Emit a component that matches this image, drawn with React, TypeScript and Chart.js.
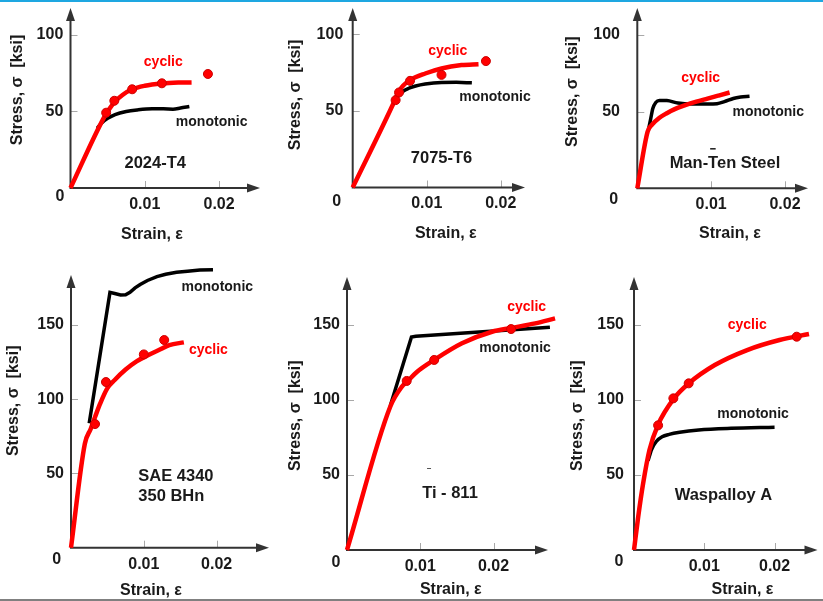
import React, { useEffect, useRef } from "react";
import { Chart, registerables } from "chart.js";

Chart.register(...registerables);

const W = 823;
const H = 601;
const FONT = "'Liberation Sans', Arial, Helvetica, sans-serif";
const RED = "#ff0000";
const INK = "#1a1a1a";
const AXIS = "#333333";

// ---------- text & ticks ----------
const strainTicks = [0.01, 0.02];
const strainTickLabels = ["0.01", "0.02"];
const stressTicksTop = [50, 100];
const stressTicksBottom = [50, 100, 150];
const materials = ["2024-T4", "7075-T6", "Man-Ten Steel", "SAE 4340\n350 BHn", "Ti - 811", "Waspalloy A"];
const yAxisTitle = "Stress, σ  [ksi]";
const xAxisTitle = "Strain, ε";
const zeroLabel = "0";
const cyclicText = "cyclic";
const monotonicText = "monotonic";

// ---------- 2024-T4 ----------
const al2024CyclicStrain = [0, 0.0045, 0.0052, 0.006, 0.007, 0.0083, 0.01, 0.0123, 0.0145, 0.0163];
const al2024CyclicStress = [0, 46, 51.5, 56.5, 60.8, 64.5, 66.8, 68.3, 68.9, 69];
const al2024MonoStrain = [0.0036, 0.0042, 0.005, 0.006, 0.0075, 0.009, 0.011, 0.0125, 0.0138, 0.0148, 0.016];
const al2024MonoStress = [39, 42.5, 45.5, 48, 50, 51, 51.7, 51.7, 51.5, 52.2, 53.2];
const al2024DotStrain = [0.0048, 0.0059, 0.0083, 0.0123, 0.0185];
const al2024DotStress = [49.2, 57, 64.5, 68.4, 74.5];

// ---------- 7075-T6 ----------
const al7075CyclicStrain = [0, 0.0057, 0.0062, 0.0068, 0.00775, 0.0098, 0.012, 0.0147, 0.017];
const al7075CyclicStress = [0, 57, 62.5, 66.5, 70.2, 74.5, 77.8, 80, 80.6];
const al7075MonoStrain = [0.0063, 0.0068, 0.0075, 0.0085, 0.0098, 0.012, 0.014, 0.0161];
const al7075MonoStress = [60.3, 62.8, 64.7, 66.3, 67.6, 68.6, 68.7, 68.4];
const al7075DotStrain = [0.0058, 0.00626, 0.00775, 0.012, 0.018];
const al7075DotStress = [57.1, 62.1, 69.7, 73.6, 82.6];

// ---------- Man-Ten Steel ----------
const manTenCyclicStrain = [0, 0.0014, 0.002, 0.003, 0.004, 0.005, 0.0065, 0.008, 0.0095, 0.011, 0.0125];
const manTenCyclicStress = [0, 37, 41.5, 46, 49, 51.5, 54.2, 56.5, 58.5, 60.5, 62.5];
const manTenMonoStrain = [0.0015, 0.0018, 0.0021, 0.0025, 0.003, 0.004, 0.0055, 0.0075, 0.0095, 0.0108, 0.0118, 0.013, 0.014, 0.0152];
const manTenMonoStress = [38, 45, 52, 56, 57.3, 57.2, 55.6, 55, 55, 55.2, 56.5, 58.6, 59.5, 60];

// ---------- SAE 4340 ----------
const sae4340CyclicStrain = [0, 0.0019, 0.0027, 0.0033, 0.004, 0.005, 0.006, 0.0075, 0.009, 0.0105, 0.012, 0.0135, 0.0155];
const sae4340CyclicStress = [0, 70, 80, 88, 97, 107.5, 113, 120, 125.5, 129.5, 133, 136.5, 138.3];
const sae4340MonoStrain = [0.0025, 0.00535, 0.006, 0.0068, 0.0075, 0.0081, 0.0088, 0.0095, 0.0105, 0.0118, 0.013, 0.0145, 0.016, 0.0177, 0.0195];
const sae4340MonoStress = [83.8, 172, 171.2, 170.2, 170.4, 172, 175, 177.3, 180, 182.6, 184.2, 185.5, 186.3, 187, 187.2];
const sae4340DotStrain = [0.0033, 0.0048, 0.01, 0.0128];
const sae4340DotStress = [83.3, 111.6, 130.2, 139.9];

// ---------- Ti-811 ----------
const ti811CyclicStrain = [0, 0.0059, 0.0075, 0.0082, 0.0095, 0.0119, 0.0157, 0.0198, 0.0224, 0.0257, 0.0284];
const ti811CyclicStress = [0, 95.5, 108.9, 112.2, 118.5, 126.7, 137.8, 145.5, 148, 151.1, 154.4];
const ti811MonoStrain = [0.0059, 0.0088, 0.0094, 0.0277];
const ti811MonoStress = [96, 142, 142.5, 148.5];
const ti811DotStrain = [0.00815, 0.0119, 0.0224];
const ti811DotStress = [112.7, 126.7, 147.3];

// ---------- Waspalloy A ----------
const waspCyclicStrain = [0, 0.0006, 0.0013, 0.0022, 0.0034, 0.0057, 0.0078, 0.0115, 0.0161, 0.0207, 0.0249];
const waspCyclicStress = [0, 22.2, 44.4, 66.7, 83.3, 101.1, 111.1, 123.3, 133.3, 140, 144];
const waspMonoStrain = [0.002, 0.0025, 0.0032, 0.004, 0.005, 0.0065, 0.0092, 0.0138, 0.02];
const waspMonoStress = [59.6, 67, 72.5, 75.5, 77.1, 78.5, 80, 81.1, 81.8];
const waspDotStrain = [0.00343, 0.0056, 0.00778, 0.02315];
const waspDotStress = [83.1, 101.1, 111.1, 142.2];

type Series = { strain: number[]; stress: number[] };
type Pt = [number, number];

interface Panel {
  material: string;
  cyc: Series;
  mono: Series;
  dots: Series | null;
  monoSharp: boolean;
  stressTicks: number[];
  ox: number;
  oy: number;
  xTip: number;
  yTip: number;
  xMax: number;
  yMax: number;
  zero: Pt;
  yGap: number;
  yTitle: Pt;
  xTitle: Pt;
  cycAt: Pt;
  monoAt: Pt;
  matAt: Pt;
  matAlign: CanvasTextAlign;
  overbarIndex?: number;
  dashAt?: Pt;
}

const panels: Panel[] = [
  {
    material: materials[0],
    cyc: { strain: al2024CyclicStrain, stress: al2024CyclicStress },
    mono: { strain: al2024MonoStrain, stress: al2024MonoStress },
    dots: { strain: al2024DotStrain, stress: al2024DotStress },
    monoSharp: false,
    stressTicks: stressTicksTop,
    ox: 70.5, oy: 188, xTip: 260, yTip: 8, xMax: 0.02551, yMax: 117.6,
    zero: [-10.5, 8.7], yGap: 7.2,
    yTitle: [17.5, 90], xTitle: [152, 234.7],
    cycAt: [0.01249, 82.5], monoAt: [0.019, 43.3], matAt: [0.0114, 16.3], matAlign: "center",
  },
  {
    material: materials[1],
    cyc: { strain: al7075CyclicStrain, stress: al7075CyclicStress },
    mono: { strain: al7075MonoStrain, stress: al7075MonoStress },
    dots: { strain: al7075DotStrain, stress: al7075DotStress },
    monoSharp: false,
    stressTicks: stressTicksTop,
    ox: 352.7, oy: 187.5, xTip: 525, yTip: 8, xMax: 0.02328, yMax: 117.3,
    zero: [-16, 14], yGap: 9.4,
    yTitle: [296, 95], xTitle: [445.8, 234],
    cycAt: [0.01284, 89.1], monoAt: [0.01923, 59.3], matAt: [0.012, 19], matAlign: "center",
  },
  {
    material: materials[2],
    cyc: { strain: manTenCyclicStrain, stress: manTenCyclicStress },
    mono: { strain: manTenMonoStrain, stress: manTenMonoStress },
    dots: null,
    monoSharp: false,
    stressTicks: stressTicksTop,
    ox: 637.3, oy: 188.3, xTip: 808, yTip: 8, xMax: 0.02312, yMax: 117.6,
    zero: [-23.5, 11.7], yGap: 17.3,
    yTitle: [572.5, 91.7], xTitle: [730, 234],
    cycAt: [0.00858, 71.7], monoAt: [0.01774, 50], matAt: [0.01187, 16.3], matAlign: "center",
    overbarIndex: 4,
  },
  {
    material: materials[3],
    cyc: { strain: sae4340CyclicStrain, stress: sae4340CyclicStress },
    mono: { strain: sae4340MonoStrain, stress: sae4340MonoStress },
    dots: { strain: sae4340DotStrain, stress: sae4340DotStress },
    monoSharp: true,
    stressTicks: stressTicksBottom,
    ox: 71, oy: 547.7, xTip: 269, yTip: 275, xMax: 0.02719, yMax: 183.7,
    zero: [-14.3, 12.3], yGap: 7,
    yTitle: [14, 400.8], xTitle: [151, 590.8],
    cycAt: [0.01886, 133.2], monoAt: [0.02009, 175.4], matAt: [0.00924, 47.8], matAlign: "left",
  },
  {
    material: materials[4],
    cyc: { strain: ti811CyclicStrain, stress: ti811CyclicStress },
    mono: { strain: ti811MonoStrain, stress: ti811MonoStress },
    dots: { strain: ti811DotStrain, stress: ti811DotStress },
    monoSharp: true,
    stressTicks: stressTicksBottom,
    ox: 347, oy: 550, xTip: 548, yTip: 277, xMax: 0.02744, yMax: 182,
    zero: [-11, 13], yGap: 7,
    yTitle: [296, 415.8], xTitle: [450.8, 590],
    cycAt: [0.02453, 162.2], monoAt: [0.02294, 134.9], matAt: [0.01406, 37.8], matAlign: "center",
    dashAt: [0.0112, 54.5],
  },
  {
    material: materials[5],
    cyc: { strain: waspCyclicStrain, stress: waspCyclicStress },
    mono: { strain: waspMonoStrain, stress: waspMonoStress },
    dots: { strain: waspDotStrain, stress: waspDotStress },
    monoSharp: false,
    stressTicks: stressTicksBottom,
    ox: 634, oy: 550, xTip: 822, yTip: 277, xMax: 0.02611, yMax: 182,
    zero: [-15, 11.7], yGap: 10,
    yTitle: [577.5, 415.8], xTitle: [742.5, 590],
    cycAt: [0.01611, 150], monoAt: [0.01694, 90.7], matAt: [0.01273, 36.2], matAlign: "center",
  },
];

const toPoints = (s: Series) => s.strain.map((x, i) => ({ x, y: s.stress[i] }));

function decorPlugin(p: Panel) {
  return {
    id: "decor",
    beforeDatasetsDraw(chart: any) {
      const ctx: CanvasRenderingContext2D = chart.ctx;
      const xs = chart.scales.x;
      const ys = chart.scales.y;
      const x0 = xs.getPixelForValue(0);
      const y0 = ys.getPixelForValue(0);
      const xt = xs.getPixelForValue(p.xMax);
      const yt = ys.getPixelForValue(p.yMax);
      ctx.save();
      // inner tick marks
      ctx.strokeStyle = "#a8a8a8";
      ctx.lineWidth = 1;
      p.stressTicks.forEach((v) => {
        const y = Math.round(ys.getPixelForValue(v)) + 0.5;
        ctx.beginPath();
        ctx.moveTo(x0, y);
        ctx.lineTo(x0 + 7, y);
        ctx.stroke();
      });
      strainTicks.forEach((v) => {
        const x = Math.round(xs.getPixelForValue(v)) + 0.5;
        ctx.beginPath();
        ctx.moveTo(x, y0);
        ctx.lineTo(x, y0 - 7);
        ctx.stroke();
      });
      // axes
      ctx.strokeStyle = AXIS;
      ctx.lineWidth = 2;
      ctx.beginPath();
      ctx.moveTo(x0, y0 + 1);
      ctx.lineTo(x0, yt + 10);
      ctx.moveTo(x0 - 1, y0);
      ctx.lineTo(xt - 10, y0);
      ctx.stroke();
      ctx.fillStyle = AXIS;
      ctx.beginPath();
      ctx.moveTo(x0, yt);
      ctx.lineTo(x0 - 4.5, yt + 13);
      ctx.lineTo(x0 + 4.5, yt + 13);
      ctx.closePath();
      ctx.fill();
      ctx.beginPath();
      ctx.moveTo(xt, y0);
      ctx.lineTo(xt - 13, y0 - 4.5);
      ctx.lineTo(xt - 13, y0 + 4.5);
      ctx.closePath();
      ctx.fill();
      ctx.restore();
    },
    afterDatasetsDraw(chart: any) {
      const ctx: CanvasRenderingContext2D = chart.ctx;
      const xs = chart.scales.x;
      const ys = chart.scales.y;
      const x0 = xs.getPixelForValue(0);
      const y0 = ys.getPixelForValue(0);
      const px = (v: number) => xs.getPixelForValue(v);
      const py = (v: number) => ys.getPixelForValue(v);
      ctx.save();
      ctx.textBaseline = "middle";
      ctx.fillStyle = INK;
      ctx.font = `bold 16px ${FONT}`;
      // y tick labels
      ctx.textAlign = "right";
      p.stressTicks.forEach((v) => ctx.fillText(String(v), x0 - p.yGap, py(v)));
      // x tick labels
      ctx.textAlign = "center";
      strainTicks.forEach((v, i) => ctx.fillText(strainTickLabels[i], px(v), y0 + 16.5));
      ctx.fillText(zeroLabel, x0 + p.zero[0], y0 + p.zero[1]);
      // axis titles
      ctx.fillText(xAxisTitle, p.xTitle[0], p.xTitle[1]);
      ctx.save();
      ctx.translate(p.yTitle[0], p.yTitle[1]);
      ctx.rotate(-Math.PI / 2);
      ctx.fillText(yAxisTitle, 0, 0);
      ctx.restore();
      // curve labels
      ctx.font = `bold 14px ${FONT}`;
      ctx.fillStyle = RED;
      ctx.fillText(cyclicText, px(p.cycAt[0]), py(p.cycAt[1]));
      ctx.fillStyle = INK;
      ctx.fillText(monotonicText, px(p.monoAt[0]), py(p.monoAt[1]));
      // material label
      ctx.font = `bold 16.5px ${FONT}`;
      ctx.textAlign = p.matAlign;
      const lines = p.material.split("\n");
      const mx = px(p.matAt[0]);
      const my = py(p.matAt[1]);
      lines.forEach((ln, i) => ctx.fillText(ln, mx, my + i * 19.3));
      if (p.overbarIndex !== undefined) {
        const full = ctx.measureText(lines[0]).width;
        const left = p.matAlign === "center" ? mx - full / 2 : mx;
        const pre = ctx.measureText(lines[0].slice(0, p.overbarIndex)).width;
        const cw = ctx.measureText(lines[0].charAt(p.overbarIndex)).width;
        const cx = left + pre + cw / 2;
        ctx.strokeStyle = INK;
        ctx.lineWidth = 1.5;
        ctx.beginPath();
        ctx.moveTo(cx - 3, my - 14.5);
        ctx.lineTo(cx + 2.5, my - 14.5);
        ctx.stroke();
      }
      if (p.dashAt) {
        const dx = px(p.dashAt[0]);
        const dy = Math.round(py(p.dashAt[1])) + 0.5;
        ctx.strokeStyle = "#555";
        ctx.lineWidth = 1;
        ctx.beginPath();
        ctx.moveTo(dx - 2, dy);
        ctx.lineTo(dx + 2, dy);
        ctx.stroke();
      }
      ctx.restore();
    },
  };
}

function PanelChart({ p }: { p: Panel }) {
  const ref = useRef<HTMLCanvasElement>(null);
  useEffect(() => {
    const datasets: any[] = [];
    if (p.dots) {
      datasets.push({
        label: "cyclic data",
        data: toPoints(p.dots),
        showLine: false,
        pointRadius: 4.5,
        pointBackgroundColor: RED,
        pointBorderColor: "#cc0000",
        pointBorderWidth: 1,
        clip: false,
      });
    }
    datasets.push({
      label: "cyclic",
      data: toPoints(p.cyc),
      showLine: true,
      borderColor: RED,
      borderWidth: 4.5,
      pointRadius: 0,
      cubicInterpolationMode: "monotone",
      clip: false,
    });
    datasets.push({
      label: "monotonic",
      data: toPoints(p.mono),
      showLine: true,
      borderColor: "#000000",
      borderWidth: 3.5,
      pointRadius: 0,
      tension: 0,
      cubicInterpolationMode: p.monoSharp ? "default" : "monotone",
      clip: false,
    });
    const chart = new Chart(ref.current as HTMLCanvasElement, {
      type: "scatter",
      data: { datasets },
      options: {
        responsive: false,
        animation: false,
        events: [],
        layout: { padding: { left: p.ox, top: p.yTip, right: W - p.xTip, bottom: H - p.oy } },
        scales: {
          x: { type: "linear", display: false, min: 0, max: p.xMax },
          y: { type: "linear", display: false, min: 0, max: p.yMax },
        },
        plugins: { legend: { display: false }, tooltip: { enabled: false } },
      },
      plugins: [decorPlugin(p)],
    } as any);
    return () => chart.destroy();
  }, [p]);
  return <canvas ref={ref} width={W} height={H} style={{ position: "absolute", left: 0, top: 0 }} />;
}

export default function App() {
  return (
    <div style={{ position: "fixed", left: 0, top: 0, width: W, height: H, background: "#ffffff", overflow: "hidden" }}>
      <div style={{ position: "absolute", left: 0, top: 0, width: W, height: 2, background: "#1ea7e1" }} />
      {panels.map((p, i) => (
        <PanelChart key={i} p={p} />
      ))}
      <div style={{ position: "absolute", left: 0, top: 599, width: W, height: 2, background: "#808080" }} />
    </div>
  );
}
